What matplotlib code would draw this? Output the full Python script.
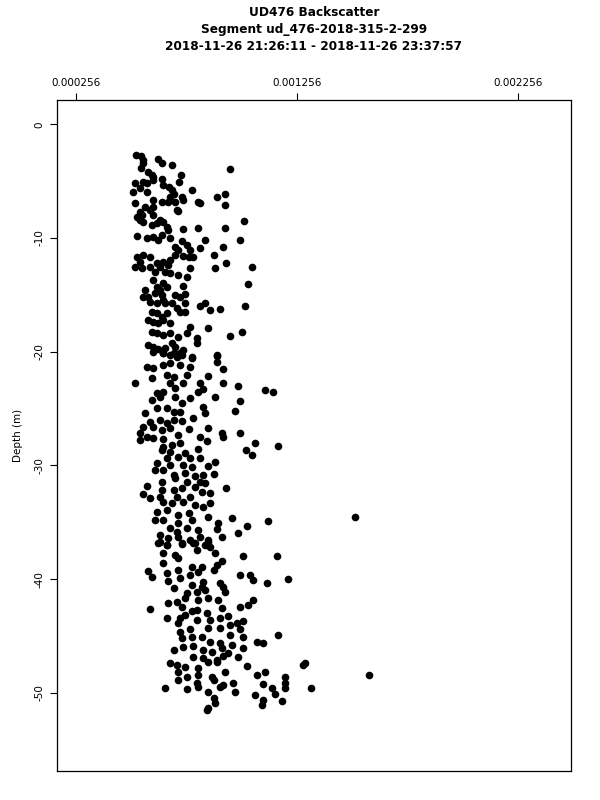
import numpy as np
import matplotlib
matplotlib.use("Agg")
import matplotlib.pyplot as plt

# backscatter in units of 1e-3, depth in metres
bs_upper = [0.527, 0.549, 0.561, 0.629, 0.644, 0.689, 0.558, 0.549, 0.583, 0.598,
            0.606, 0.953, 0.730, 0.724, 0.523, 0.561, 0.576, 0.606, 0.644, 0.651,
            0.678, 0.689, 0.780, 0.576, 0.515, 0.546, 0.893, 0.931, 0.931, 0.817,
            0.810, 0.742, 0.734, 0.704, 0.674, 0.644, 0.606, 0.606, 0.523, 0.568,
            0.546, 0.591, 0.682, 0.697, 0.712, 0.719, 0.530, 0.553, 0.561, 0.546,
            0.606, 0.636, 0.651, 0.598, 0.621, 0.666, 0.674, 1.014, 0.931, 0.810,
            0.742, 0.530, 0.576, 0.606, 0.629, 0.644, 0.682, 0.734, 0.840, 0.998,
            0.704, 0.719, 0.757, 0.772, 0.817, 0.923, 0.878, 0.530, 0.561, 0.591,
            0.546, 0.704, 0.742, 0.765, 0.787, 0.651, 0.674, 0.682, 0.523, 0.553,
            0.591, 0.621, 0.636, 0.614, 0.659, 0.682, 0.719, 0.757, 0.772, 0.885,
            0.935, 1.051, 0.606, 0.621, 0.636, 0.651, 0.666, 0.568, 0.583, 0.614,
            0.644, 0.651, 0.742, 1.036, 0.704, 0.727, 0.749, 0.561, 0.591, 0.621,
            0.659, 0.689, 0.749, 0.817, 0.840, 0.860, 0.908, 1.021, 0.598, 0.621,
            0.644, 0.666, 0.712, 0.727, 0.749, 0.583, 0.606, 0.629, 0.651, 0.682,
            0.772, 0.855, 1.006, 0.953, 0.598, 0.621, 0.651, 0.682, 0.719, 0.757,
            0.802, 0.583, 0.606, 0.629, 0.659, 0.689, 0.704, 0.742, 0.727, 0.802,
            0.780, 0.893, 0.651, 0.682, 0.712]
depth_upper = [-2.70, -2.79, -3.14, -3.08, -3.37, -3.58, -3.43, -3.87, -4.16, -4.46,
               -4.60, -3.96, -4.49, -5.04, -5.13, -5.04, -5.19, -4.90, -4.84, -5.34,
               -5.48, -5.78, -5.78, -5.92, -5.92, -5.63, -6.42, -6.16, -7.09, -6.95,
               -6.80, -6.65, -6.42, -6.80, -6.80, -6.80, -6.65, -7.24, -6.95, -7.24,
               -7.68, -7.53, -6.36, -6.13, -7.53, -7.59, -8.12, -7.97, -8.56, -8.41,
               -7.97, -8.41, -8.56, -8.85, -8.71, -9.00, -9.29, -8.50, -9.09, -9.15,
               -9.23, -9.82, -10.03, -9.88, -10.17, -9.73, -10.03, -10.26, -10.17, -10.17,
               -10.76, -11.05, -10.61, -11.05, -10.91, -10.82, -11.49, -11.70, -11.49, -11.64,
               -12.08, -11.49, -11.58, -11.64, -11.70, -12.08, -12.37, -11.93, -12.52, -12.61,
               -12.52, -12.23, -12.52, -12.96, -12.96, -13.11, -13.25, -13.40, -12.67, -12.61,
               -12.17, -12.58, -13.69, -14.27, -14.57, -13.98, -14.27, -14.57, -15.16, -14.86,
               -15.01, -15.45, -14.22, -14.07, -15.01, -15.16, -14.92, -15.16, -15.59, -15.74,
               -15.74, -15.74, -15.74, -15.94, -15.74, -16.33, -16.24, -15.97, -16.48, -16.62,
               -16.92, -16.62, -16.18, -16.48, -16.48, -17.21, -17.36, -17.50, -17.21, -17.50,
               -17.80, -17.88, -18.24, -18.62, -18.24, -18.38, -18.53, -18.32, -18.67, -18.38,
               -18.82, -19.41, -19.55, -19.79, -19.70, -19.26, -19.55, -19.85, -20.14, -19.26,
               -20.49, -20.29, -20.14, -20.29, -20.43]

bs_mid = [0.606, 0.651, 0.697, 0.734, 0.780, 0.893, 0.893, 0.576, 0.606, 0.651,
          0.682, 0.727, 0.772, 0.923, 0.598, 0.666, 0.697, 0.757, 0.855, 0.523,
          0.682, 0.742, 0.817, 0.923, 0.990, 1.111, 1.149, 0.621, 0.651, 0.704,
          0.810, 0.832, 0.885, 0.598, 0.636, 0.704, 0.734, 0.772, 0.998, 0.568,
          0.621, 0.666, 0.697, 0.727, 0.832, 0.840, 0.975, 0.787, 0.591, 0.636,
          0.666, 0.697, 0.734, 0.561, 0.606, 0.644, 0.682, 0.546, 0.719, 0.765,
          0.855, 0.915, 0.923, 0.998, 0.576, 0.606, 0.651, 0.546, 0.817, 0.847,
          1.066, 1.171, 0.651, 0.689, 0.727, 0.644, 0.682, 0.749, 0.810, 1.024,
          1.051, 0.666, 0.719, 0.772, 0.817, 0.885, 0.621, 0.682, 0.742, 0.780,
          0.855, 0.614, 0.651, 0.697, 0.749, 0.795, 0.832, 0.878, 0.644, 0.704,
          0.757, 0.817, 0.840, 0.576, 0.644, 0.697, 0.734, 0.795, 0.825, 0.862,
          0.935, 0.561, 0.591, 0.636, 0.712, 0.772, 0.651, 0.689, 0.742, 0.795,
          0.832, 0.862, 0.621, 0.666, 0.719, 0.765, 0.855, 0.963, 1.123, 0.614,
          0.651, 0.719, 0.780, 0.900, 1.028, 0.682, 0.712, 0.757, 0.810, 0.893,
          0.990, 0.636, 0.674, 0.719, 0.772, 0.817, 0.855, 0.915, 0.629, 0.666,
          0.734, 0.787, 0.840, 0.862, 1.518]
depth_mid = [-20.00, -20.14, -20.14, -20.29, -20.58, -20.38, -20.88, -21.32, -21.46, -21.17,
             -21.02, -21.17, -21.32, -21.55, -22.34, -22.05, -22.20, -22.05, -22.14, -22.72,
             -22.78, -22.78, -22.78, -22.72, -22.99, -23.37, -23.52, -23.66, -23.52, -23.22,
             -23.52, -23.31, -23.95, -24.25, -23.95, -23.95, -24.54, -24.10, -24.31, -25.36,
             -24.98, -24.98, -25.27, -25.27, -24.83, -25.36, -25.19, -25.86, -26.15, -26.01,
             -26.30, -26.01, -26.07, -26.59, -26.59, -26.89, -26.74, -27.12, -27.33, -26.83,
             -26.68, -27.12, -27.53, -27.18, -27.47, -27.62, -27.71, -27.77, -27.47, -27.83,
             -28.00, -28.26, -28.35, -28.21, -28.06, -28.65, -28.79, -28.94, -28.56, -28.62,
             -29.12, -29.38, -29.23, -29.38, -29.38, -29.67, -29.82, -29.97, -29.97, -30.17,
             -30.05, -30.41, -30.41, -30.85, -30.70, -30.93, -30.85, -30.76, -31.43, -31.14,
             -31.43, -31.43, -31.58, -31.81, -32.16, -32.16, -32.02, -31.87, -32.31, -32.46,
             -31.96, -32.55, -32.90, -32.75, -32.75, -32.75, -33.19, -33.34, -33.19, -33.48,
             -33.63, -33.34, -34.07, -33.92, -34.36, -34.22, -34.57, -34.66, -34.86, -34.80,
             -34.80, -35.10, -34.80, -35.04, -35.30, -35.54, -35.83, -35.54, -35.68, -35.59,
             -35.92, -36.12, -36.42, -36.27, -36.56, -36.27, -36.56, -36.27, -36.80, -37.00,
             -36.86, -36.80, -37.00, -37.15, -34.54]

bs_low = [0.636, 0.666, 0.734, 0.795, 0.855, 0.802, 0.885, 0.651, 0.704, 0.719,
          0.651, 1.013, 1.164, 0.915, 0.583, 0.598, 0.666, 0.719, 0.780, 0.825,
          0.893, 0.878, 0.772, 0.810, 0.998, 1.043, 1.058, 1.118, 1.214, 0.674,
          0.727, 0.832, 0.908, 0.697, 0.780, 0.825, 0.923, 0.757, 0.802, 0.840,
          0.930, 0.749, 0.810, 0.855, 0.900, 0.674, 0.712, 1.058, 1.036, 0.998,
          0.591, 0.734, 0.780, 0.802, 0.847, 0.915, 0.666, 0.727, 0.749, 0.802,
          0.862, 0.908, 0.945, 0.983, 1.013, 0.719, 0.908, 0.953, 0.998, 0.727,
          0.772, 0.855, 0.734, 0.780, 0.825, 0.862, 0.908, 0.953, 1.013, 1.073,
          1.103, 1.171, 0.697, 0.742, 0.787, 0.832, 0.870, 0.915, 0.960, 1.013,
          0.945, 0.787, 0.832, 0.893, 0.923, 0.990, 0.682, 0.712, 0.749, 0.810,
          0.855, 0.893, 1.028, 1.284, 1.292, 1.583, 0.719, 0.757, 0.810, 0.870,
          0.930, 1.073, 1.111, 1.201, 0.719, 0.802, 0.878, 0.923, 0.968, 0.659,
          0.757, 0.810, 0.855, 0.908, 1.103, 1.141, 1.201, 1.201, 1.318, 0.878,
          0.885, 0.975, 1.066, 1.103, 1.156, 1.186, 1.096, 0.855, 0.847]
depth_low = [-36.71, -37.00, -36.91, -36.85, -36.71, -37.44, -37.67, -37.73, -37.88, -38.17,
             -38.55, -37.97, -37.94, -38.38, -39.26, -39.84, -39.49, -39.20, -38.96, -38.91,
             -38.76, -39.20, -39.64, -39.35, -39.64, -39.64, -40.08, -40.37, -40.02, -40.14,
             -39.93, -40.23, -40.37, -40.81, -40.52, -40.66, -40.66, -41.25, -41.10, -40.96,
             -41.10, -41.69, -41.84, -41.69, -41.84, -42.13, -41.98, -41.84, -42.28, -42.42,
             -42.63, -42.42, -42.78, -42.72, -42.95, -42.57, -43.39, -43.45, -43.16, -43.60,
             -43.60, -43.45, -43.24, -43.83, -43.66, -43.89, -44.33, -44.04, -44.42, -44.62,
             -44.42, -44.33, -45.21, -45.06, -45.06, -45.50, -45.59, -44.92, -45.06, -45.50,
             -45.59, -44.92, -46.24, -45.94, -45.88, -46.24, -46.38, -46.09, -45.80, -46.09,
             -46.53, -46.82, -46.97, -47.12, -46.76, -46.82, -47.41, -47.56, -47.70, -47.85,
             -47.26, -47.26, -47.64, -47.56, -47.41, -48.41, -48.14, -48.58, -48.43, -48.58,
             -48.14, -48.43, -48.14, -48.58, -48.87, -49.17, -48.87, -49.31, -49.11, -49.55,
             -49.70, -49.46, -49.90, -49.46, -49.23, -49.55, -49.17, -49.61, -49.58, -50.49,
             -50.93, -49.90, -50.19, -50.63, -50.14, -50.75, -51.07, -51.37, -51.51]

x_ticks = [0.000256, 0.001256, 0.002256]
y_ticks = [0, -10, -20, -30, -40, -50]
title_lines = ["UD476 Backscatter",
               "Segment ud_476-2018-315-2-299",
               "2018-11-26 21:26:11 - 2018-11-26 23:37:57"]

backscatter = np.array(bs_upper + bs_mid + bs_low) * 1e-3
depth = np.array(depth_upper + depth_mid + depth_low)

plt.rcParams['font.family'] = ['DejaVu Sans']

fig = plt.figure(figsize=(6, 8), dpi=100)
ax = fig.add_axes([0.095, 0.036, 0.857, 0.839])

ax.plot(backscatter, depth, 'o', color='black', ms=5.5, mew=0)

ax.set_xlim(0.000170, 0.002496)
ax.set_ylim(-56.9, 2.14)

ax.xaxis.tick_top()
ax.set_xticks(x_ticks)
ax.set_xticklabels([f"{v:.6f}" for v in x_ticks], fontsize=7.5)
ax.set_yticks(y_ticks)
ax.set_yticklabels([str(v) for v in y_ticks], fontsize=7.5, rotation=90, va='center')
ax.tick_params(axis='both', length=5, width=0.8, pad=4, color='black')
ax.set_ylabel("Depth (m)", fontsize=7.5, labelpad=8)

for s in ax.spines.values():
    s.set_linewidth(0.9)

ys = [1 - 12 / 800, 1 - 29 / 800, 1 - 46 / 800]
for txt, y in zip(title_lines, ys):
    fig.text(0.523, y, txt, ha='center', va='center', fontsize=8.7, fontweight='bold')

fig.savefig("out.png", dpi=100)
